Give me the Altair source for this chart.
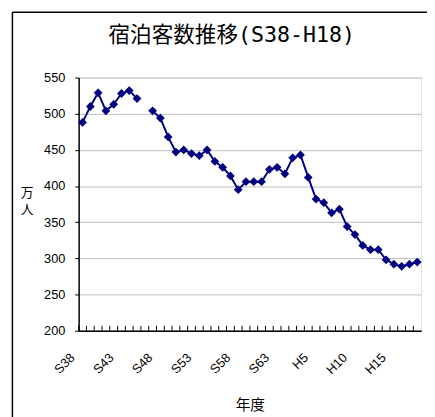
import altair as alt
import pandas as pd

years = [f"S{n}" for n in range(38, 64)] + [f"H{n}" for n in range(1, 19)]
guests = [488, 510, 529, 504, 513, 528, 532, 521, None, 504,
          494, 468, 447, 450, 445, 442, 450, 434, 426, 414,
          395, 406, 406, 406, 423, 426, 417, 439, 443, 412,
          382, 377, 363, 368, 344, 333, 318, 312, 312, 298,
          292, 289, 292, 295]
label_years = ["S38", "S43", "S48", "S53", "S58", "S63", "H5", "H10", "H15"]
y_ticks = [200, 250, 300, 350, 400, 450, 500, 550]
title_text = "宿泊客数推移(S38-H18)"

df = pd.DataFrame({"year": years, "guests": guests})
one = pd.DataFrame({"t": [title_text]})

W, H = 349, 258
navy = "#000080"
cjk = "Noto Sans CJK JP"

xscale = alt.Scale(type="band", paddingInner=0, paddingOuter=0)
yscale = alt.Scale(domain=[200, 550], nice=False, zero=False)
x_axis = alt.Axis(
    values=label_years, ticks=False, labelAngle=-45, labelAlign="right",
    labelBaseline="middle", labelPadding=25, labelOffset=-10,
    labelFont="Liberation Sans", labelFontSize=13, labelColor="black",
    labelOverlap=False, domainColor="black", domainWidth=1.5, grid=False,
    title="年度", titleFont=cjk, titleFontSize=15, titleFontWeight="normal",
    titleColor="black", titleY=75, titleBaseline="middle",
)
y_axis = alt.Axis(
    values=y_ticks, tickSize=4, tickColor="black", domainColor="black",
    domainWidth=1.5, labelFont="Liberation Sans", labelFontSize=13,
    labelColor="black", labelPadding=10, labelOverlap=False,
    grid=True, gridColor="#bdbdbd",
    title=["万", "人"], titleAngle=0, titleFont=cjk, titleFontSize=13,
    titleFontWeight="normal", titleColor="black", titleX=-53, titleY=117,
    titleAlign="center", titleBaseline="middle", titleLineHeight=18,
)

base = alt.Chart(df)

line = base.mark_line(color=navy, strokeWidth=2,
                      invalid="break-paths-filter-domains").encode(
    x=alt.X("year:O", sort=years, scale=xscale, axis=x_axis, bandPosition=0.5),
    y=alt.Y("guests:Q", scale=yscale, axis=y_axis),
)
points = base.mark_point(shape="diamond", filled=True, color=navy, size=80,
                         opacity=1).encode(
    x=alt.X("year:O", sort=years, scale=xscale, axis=x_axis, bandPosition=0.5),
    y=alt.Y("guests:Q", scale=yscale, axis=y_axis),
)
ticks = base.mark_rule(color="black", strokeWidth=1).encode(
    x=alt.X("year:O", sort=years, scale=xscale, axis=x_axis, bandPosition=0),
    y=alt.value(H),
    y2=alt.value(H - 5),
)
obase = alt.Chart(one)
border_left = obase.mark_rule(color="black", strokeWidth=1.5).encode(
    x=alt.value(-67.5), y=alt.value(-66.5), y2=alt.value(H + 90)
)
border_top = obase.mark_rule(color="black", strokeWidth=1.5).encode(
    x=alt.value(-67.5), x2=alt.value(W + 20), y=alt.value(-66.5)
)
title = obase.mark_text(font="DejaVu Sans Mono, Noto Sans CJK JP", fontSize=22,
                        color="black", align="center", baseline="middle").encode(
    x=alt.value(156), y=alt.value(-43), text="t:N"
)

chart = alt.layer(ticks, line, points, border_left, border_top, title).properties(
    width=W, height=H,
    padding={"left": 72, "top": 67, "right": 6, "bottom": 84},
    autosize=alt.AutoSizeParams(type="none"),
).configure_view(stroke="#a0a0a0", strokeWidth=1.5).configure(background="white")

chart.save("out.html", embed_options={"renderer": "svg", "actions": False})
